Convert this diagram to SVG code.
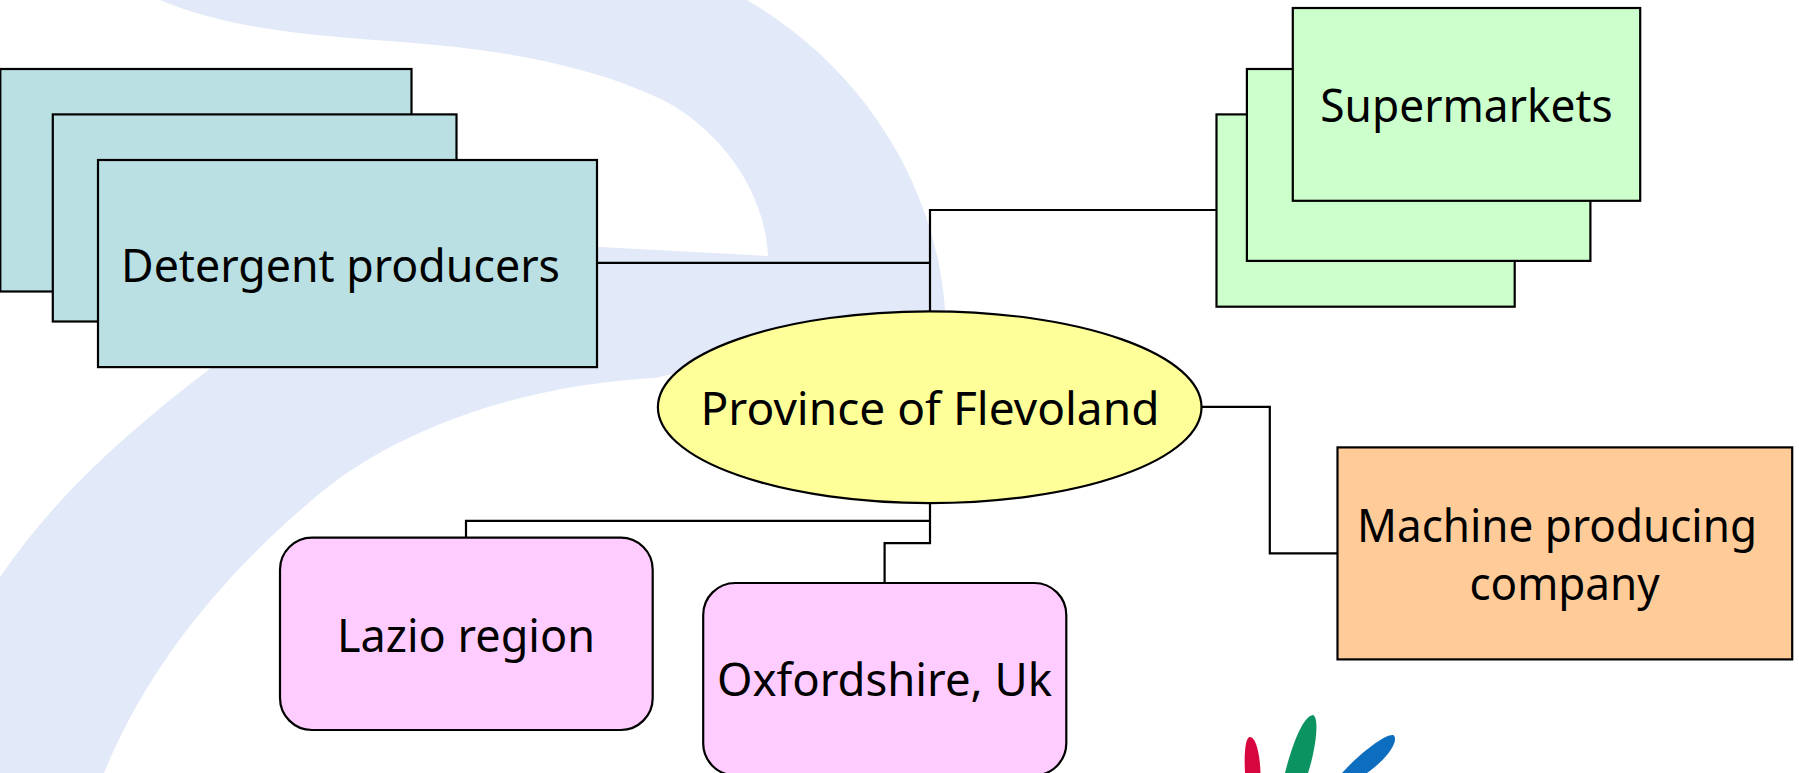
<svg xmlns="http://www.w3.org/2000/svg" width="1799" height="773" viewBox="0 0 1799 773">
<style>
.b{stroke:#000;stroke-width:2.2}
.t{fill:#000;font-family:"Noto Sans","DejaVu Sans",sans-serif;font-size:46px}
.c{fill:none;stroke:#000;stroke-width:2.2}
</style>
<rect width="1799" height="773" fill="#fff"/>
<g id="background">
<path fill="#e2e9f8" d="M160,0 C235,32 330,36 401.5,42 C480,48 580,60 663,100 C720,130 765,190 768,256 L600,247 L480,250 L300,300 L212.5,366.7 C130,430 60,490 0,577 L0,773 L104,773 C150,660 230,570 308,503.5 C390,430 520,385 655,378 L945,310 C938,200 875,75 747,0 Z"/>
<path fill="#d8063f" d="M1250,737 C1256,737 1260,755 1260.500,773 L1245,773 C1244,755 1245,737 1250,737 Z"/>
<path fill="#0b9462" d="M1313,715 C1319,717 1317,745 1308,773 L1285,773 C1292,745 1303,716 1313,715 Z"/>
<path fill="#0d6dbf" d="M1393,735 C1399,738 1392,755 1367,773 L1342,773 C1360,753 1385,734 1393,735 Z"/>
</g>
<g id="connectors">
<path class="c" d="M597,262.8H930"/>
<path class="c" d="M930,311V210H1217"/>
<path class="c" d="M1201.6,406.8H1269.8V553.4H1338"/>
<path class="c" d="M930,503V543.1H884.6V583"/>
<path class="c" d="M930,520.9H466V537.7"/>
</g>
<g id="detergent-producers">
<rect class="b" x="0.3" y="69" width="411.2" height="222.5" fill="#bae0e3"/>
<rect class="b" x="52.8" y="114.4" width="403.7" height="207.1" fill="#bae0e3"/>
<rect class="b" x="98" y="160" width="499" height="207.1" fill="#bae0e3"/>
<text class="t" x="121" y="281.7" textLength="439" lengthAdjust="spacingAndGlyphs">Detergent producers</text>
</g>
<g id="supermarkets">
<rect class="b" x="1216.5" y="114.4" width="298.2" height="192.3" fill="#ccffcc"/>
<rect class="b" x="1246.9" y="69" width="343.5" height="191.9" fill="#ccffcc"/>
<rect class="b" x="1292.8" y="8" width="347.4" height="192.8" fill="#ccffcc"/>
<text class="t" x="1320.3" y="122.3" textLength="292.4" lengthAdjust="spacingAndGlyphs">Supermarkets</text>
</g>
<g id="province">
<ellipse class="b" cx="929.7" cy="407.2" rx="271.8" ry="95.9" fill="#ffff99"/>
<text class="t" x="700.5" y="424.6" textLength="459" lengthAdjust="spacingAndGlyphs">Province of Flevoland</text>
</g>
<g id="machine-company">
<rect class="b" x="1337.5" y="447.4" width="454.7" height="212" fill="#ffcc99"/>
<text class="t" x="1357" y="542" textLength="400" lengthAdjust="spacingAndGlyphs">Machine producing</text>
<text class="t" x="1469.4" y="599.6" textLength="190.3" lengthAdjust="spacingAndGlyphs">company</text>
</g>
<g id="lazio">
<rect class="b" x="280" y="537.7" width="372.7" height="192.3" rx="32" fill="#ffccff"/>
<text class="t" x="337" y="651.5" textLength="258" lengthAdjust="spacingAndGlyphs">Lazio region</text>
</g>
<g id="oxfordshire">
<rect class="b" x="703.2" y="583" width="363.1" height="192.3" rx="32" fill="#ffccff"/>
<text class="t" x="717" y="695.7" textLength="335" lengthAdjust="spacingAndGlyphs">Oxfordshire, Uk</text>
</g>
</svg>
